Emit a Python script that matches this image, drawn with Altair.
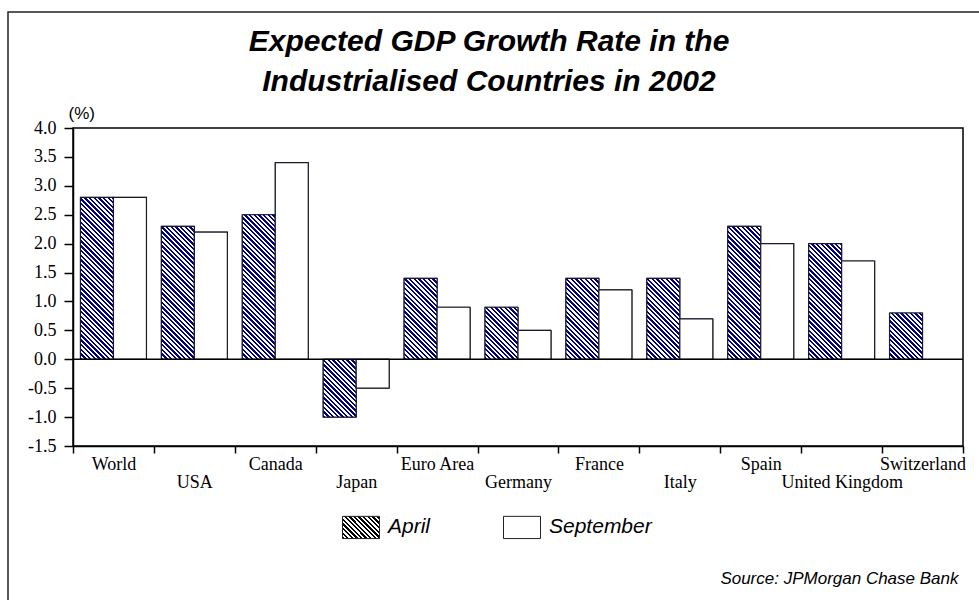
import json
import altair as alt

# ---------------- data ----------------
countries = ["World", "USA", "Canada", "Japan", "Euro Area", "Germany",
             "France", "Italy", "Spain", "United Kingdom", "Switzerland"]
april = [2.8, 2.3, 2.5, -1.0, 1.4, 0.9, 1.4, 1.4, 2.3, 2.0, 0.8]
september = [2.8, 2.2, 3.4, -0.5, 0.9, 0.5, 1.2, 0.7, 2.0, 1.7, None]
series_names = ["April", "September"]
y_ticks = [-1.5, -1.0, -0.5, 0.0, 0.5, 1.0, 1.5, 2.0, 2.5, 3.0, 3.5, 4.0]
lower_row = countries[1::2]
title_lines = ["Expected GDP Growth Rate in the", "Industrialised Countries in 2002"]
source_text = "Source: JPMorgan Chase Bank"

# ---------------- layout ----------------
W, H = 979, 600
PL, PT, PR, PB = 73, 128, 16, 154
PLOT_W, PLOT_H = W - PL - PR, H - PT - PB
Y_MIN, Y_MAX = -1.5, 4.0
PX_PER_UNIT = PLOT_H / (Y_MAX - Y_MIN)
BAND = PLOT_W / len(countries)
BAR_W = 33.0
OFF_PAD = (BAND / BAR_W - 2) / 2
NAVY = "#000080"


def hatch(w, h, color, period=4.7):
    """Diagonal (top-left to bottom-right) stripes in bbox units for a w x h box."""
    total = w + h
    stops = []
    k = 0
    while k * period < total:
        a = round(k * period / total, 5)
        b = round(min((k + 0.5) * period / total, 1), 5)
        c = round(min((k + 1) * period / total, 1), 5)
        stops += [{"offset": a, "color": color}, {"offset": b, "color": color},
                  {"offset": b, "color": "white"}, {"offset": c, "color": "white"}]
        k += 1
    cc = total / (w * w + h * h)
    return {"gradient": "linear", "x1": 0, "y1": 1,
            "x2": round(cc * w, 6), "y2": round(1 - cc * h, 6), "stops": stops}


rows = []
for c, a, s in zip(countries, april, september):
    rows.append({"country": c, "series": "April", "value": a,
                 "grad": hatch(BAR_W, abs(a) * PX_PER_UNIT, NAVY)})
    if s is not None:
        rows.append({"country": c, "series": "September", "value": s, "grad": "white"})

legend_grad_expr = json.dumps(hatch(37, 22, "black", 4.6))

x_enc = alt.X("country:N", sort=countries,
              scale=alt.Scale(paddingInner=0, paddingOuter=0),
              axis=alt.Axis(
                  title=source_text, titleFont="Liberation Sans", titleFontStyle="italic",
                  titleFontWeight="normal", titleFontSize=17, titleColor="black",
                  titleAlign="right", titleBaseline="alphabetic",
                  titleX=958 - PL, titleY=583 - (PT + PLOT_H), titleAnchor="end",
                  labelAngle=0, labelFont="Liberation Serif", labelFontSize=18,
                  labelColor="black", labelOverlap=False,
                  labelPadding={"condition": {"test": "indexof(" + json.dumps(lower_row) + ", datum.value) >= 0",
                                              "value": 20}, "value": 2},
                  tickBand="extent", tickSize=7, tickColor="black", tickWidth=1.5,
                  domainColor="black", domainWidth=1.5, grid=False))
xoff_enc = alt.XOffset("series:N", sort=series_names,
                       scale=alt.Scale(domain=series_names, paddingInner=0, paddingOuter=OFF_PAD))
y_enc = alt.Y("value:Q", stack=None,
              scale=alt.Scale(domain=[Y_MIN, Y_MAX], nice=False, zero=False),
              axis=alt.Axis(values=y_ticks, tickCount=len(y_ticks),
                            labelExpr="replace(format(datum.value, '.1f'), '\u2212', '-')",
                            labelFont="Liberation Serif", labelFontSize=18, labelColor="black",
                            labelOverlap=False, labelBound=False, labelFlush=False,
                            labelPadding=8, tickSize=9, tickColor="black", tickWidth=1.5,
                            domainColor="black", domainWidth=1.5, grid=False,
                            title="(%)", titleAngle=0, titleFont="Liberation Sans",
                            titleFontSize=17, titleFontWeight="normal", titleColor="black",
                            titleAlign="left", titleBaseline="middle",
                            titleX=68 - PL, titleY=113 - PT))

base = alt.Chart(alt.Data(values=rows))

legend_bars = base.mark_bar(stroke="#222", strokeWidth=1).encode(
    x=x_enc, xOffset=xoff_enc, y=y_enc,
    color=alt.Color("series:N",
                    scale=alt.Scale(domain=series_names,
                                    range=[alt.ExprRef(legend_grad_expr), "white"]),
                    legend=alt.Legend(title=None, orient="none", direction="horizontal",
                                      legendX=342 - PL, legendY=380, padding=0,
                                      symbolType="M-1,-0.6H1V0.6H-1Z", symbolSize=1369,
                                      symbolStrokeColor="#222", symbolStrokeWidth=1,
                                      labelFont="Liberation Sans", labelFontStyle="italic",
                                      labelFontSize=21, labelColor="black",
                                      labelOffset=8, columnPadding=70)))

hatched_bars = base.mark_bar(stroke="#1a1a2a", strokeWidth=1.2).encode(
    x=x_enc, xOffset=xoff_enc, y=y_enc,
    fill=alt.Fill("grad:N", scale=None, legend=None))

zero_rule = alt.Chart(alt.Data(values=[{"value": 0}])).mark_rule(
    color="black", strokeWidth=1.5).encode(y=y_enc)

frame = alt.Chart(alt.Data(values=[{"frame": 1}])).mark_rect(
    fill="transparent", stroke="#222", strokeWidth=1.5).encode(
    x=alt.value(8 - PL), y=alt.value(12 - PT), x2=alt.value(W + 100), y2=alt.value(H + 100))

chart = alt.layer(frame, legend_bars, hatched_bars, zero_rule).properties(
    width=PLOT_W, height=PLOT_H,
    background="white",
    autosize=alt.AutoSizeParams(type="none"),
    padding={"left": PL, "top": PT, "right": PR, "bottom": PB},
    title=alt.Title(title_lines, font="Liberation Sans", fontSize=30, fontWeight="bold",
                    fontStyle="italic", color="black", anchor="middle", frame="group",
                    dx=489 - (PL + PLOT_W / 2), dy=100, lineHeight=40, offset=14),
).configure_view(stroke="black", strokeWidth=1.5)

chart.save("out.html", embed_options={"renderer": "svg", "actions": False})
